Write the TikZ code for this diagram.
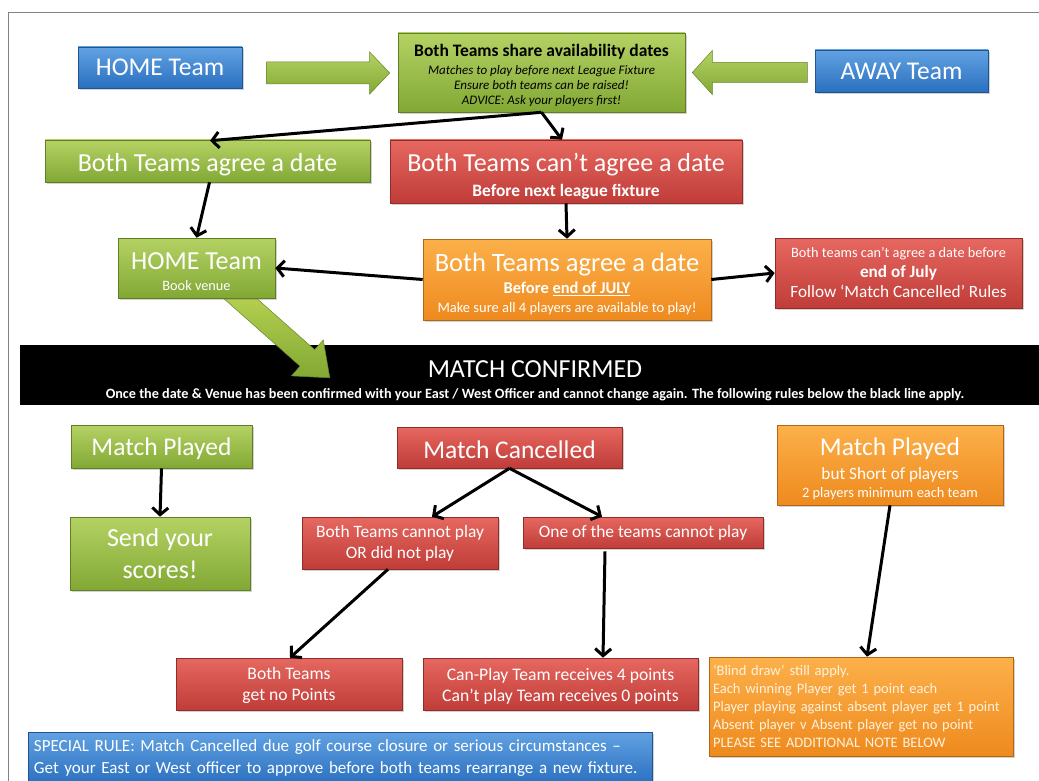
\documentclass[tikz,border=0pt]{standalone}
\usepackage{fontspec}
\setmainfont{Carlito}
\usetikzlibrary{arrows.meta,shadows,calc}
\pgfdeclarelayer{back}
\pgfdeclarelayer{mid}
\pgfsetlayers{back,mid,main}
\newcommand{\fsz}[2]{\fontsize{#1}{#2}\selectfont}
\newcommand{\pushdown}[1]{\rule{0pt}{#1}}
\definecolor{blueT}{RGB}{98,162,226}
\definecolor{blueB}{RGB}{42,112,192}
\definecolor{greenT}{RGB}{180,210,100}
\definecolor{greenB}{RGB}{130,168,52}
\definecolor{redT}{RGB}{230,104,96}
\definecolor{redB}{RGB}{192,60,56}
\definecolor{orangeT}{RGB}{252,176,74}
\definecolor{orangeB}{RGB}{238,138,30}
\definecolor{frame}{RGB}{130,130,130}
\definecolor{cream}{RGB}{255,242,222}
\tikzset{
  box/.style={draw=#1B!75!black, line width=0.6pt, inner sep=2pt, align=center,
    text=white, top color=#1T, bottom color=#1B,
    drop shadow={opacity=0.35, shadow xshift=2pt, shadow yshift=-2pt}},
  conn/.style={line width=3pt, -{Straight Barb[length=7pt,width=16pt]}},
  barrow/.style={top color=greenT, bottom color=greenB, draw=greenB!80!black, line width=0.5pt},
}
\begin{document}
\begin{tikzpicture}[x=1pt,y=-1pt]
\useasboundingbox (0,0) rectangle (1039,781);
\clip (0,0) rectangle (1039,781);
\begin{pgfonlayer}{back}
\fill[white] (0,0) rectangle (1039,781);
\draw[frame, line width=1pt] (8,790) -- (8,12.5) -- (1045,12.5);
\end{pgfonlayer}

% top row
\node[box=blue, minimum width=164pt, minimum height=41pt, font=\fsz{25.5}{30}] (home) at (160,67.5) {HOME Team};
\node[box=green, text=black, minimum width=287pt, minimum height=79pt, font=\fsz{13}{15}\itshape] (share) at (541.5,72.5)
  {\pushdown{18pt}{\fsz{17.5}{20}\bfseries\upshape Both Teams share availability dates}\\[3pt]
   Matches to play before next League Fixture\\ Ensure both teams can be raised!\\ ADVICE: Ask your players first!};
\node[box=blue, minimum width=173pt, minimum height=42pt, font=\fsz{25.5}{30}] (away) at (901.5,71) {AWAY Team};

% block arrows
\coordinate (rt) at ($(share.west)+(-8,0.5)$);
\path[barrow] (rt) -- ++(-20,-21) -- ++(0,10) -- ++(-103,0) -- ++(0,22) -- ++(103,0) -- ++(0,10) -- cycle;
\coordinate (lt) at ($(share.east)+(7,0)$);
\path[barrow] (lt) -- ++(20,-22) -- ++(0,12) -- ++(95,0) -- ++(0,20) -- ++(-95,0) -- ++(0,12) -- cycle;

% second row
\node[box=green, minimum width=325pt, minimum height=42pt, font=\fsz{26}{30}] (agree) at (207.5,161) {\pushdown{25pt}Both Teams agree a date};
\node[box=red, minimum width=352pt, minimum height=63pt, font=\fsz{17.4}{19}\bfseries] (cant) at (566,171.5)
  {\pushdown{27pt}{\fsz{26}{30}\mdseries Both Teams can’t agree a date}\\[6pt] Before next league fixture};

% third row
\node[box=green, minimum width=157pt, minimum height=60pt, font=\fsz{14.3}{16}] (homeg) at (196.5,268)
  {\pushdown{25pt}{\fsz{26}{28}HOME Team}\\[5pt] Book venue};
\node[box=orange, minimum width=288pt, minimum height=81pt, font=\fsz{14.5}{17}] (orng) at (567,279.5)
  {\pushdown{27pt}{\fsz{26.5}{28}Both Teams agree a date}\\[5pt]
   {\fsz{16.5}{18}\bfseries Before \underline{end of JULY}}\\[2pt]
   Make sure all 4 players are available to play!};
\node[box=red, minimum width=247pt, minimum height=70pt, font=\fsz{17.2}{20}] (redr) at (898.5,273)
  {{\fsz{14.3}{16}Both teams can’t agree a date before}\\ {\bfseries end of July}\\ Follow ‘Match Cancelled’ Rules};

% black band and big arrow
\begin{pgfonlayer}{back}
\node[fill=black, minimum width=1030pt, minimum height=60pt, inner sep=0pt, text=white, align=center, font=\fsz{14.2}{16}\bfseries] (band) at (535,375)
  {\pushdown{29pt}{\fsz{26}{30}\mdseries MATCH CONFIRMED}\\[5pt] Once the date \& Venue has been confirmed with your East / West Officer and cannot change again. The following rules below the black line apply.};
\end{pgfonlayer}
\begin{pgfonlayer}{mid}
\coordinate (ds) at ($(homeg.south)+(30,-12)$);
\coordinate (dt) at ($(band.north west)+(310,33)$);
\coordinate (db) at ($(dt)!30pt!(ds)$);
\path[top color=greenT!85!yellow, bottom color=greenB, draw=greenB!80!black, line width=0.5pt]
  ($(ds)!11pt!90:(dt)$) -- ($(db)!11pt!90:(dt)$) -- ($(db)!24pt!90:(dt)$) -- (dt)
  -- ($(db)!24pt!-90:(dt)$) -- ($(db)!11pt!-90:(dt)$) -- ($(ds)!11pt!-90:(dt)$) -- cycle;
\end{pgfonlayer}

% lower part
\node[box=green, minimum width=181pt, minimum height=43pt, font=\fsz{25.5}{30}] (mp) at (161.5,446.5) {\pushdown{23pt}Match Played};
\node[box=green, minimum width=180pt, minimum height=73pt, font=\fsz{26}{32}] (send) at (160,553.5) {Send your\\ scores!};
\node[box=red, minimum width=225pt, minimum height=41pt, font=\fsz{25.5}{30}] (mc) at (509.5,447.5) {\pushdown{23pt}Match Cancelled};
\node[box=red, minimum width=196pt, minimum height=52pt, font=\fsz{17.4}{21}] (bcp) at (400,543) {Both Teams cannot play\\ OR did not play};
\node[box=red, minimum width=240pt, minimum height=31pt, font=\fsz{17.4}{20}] (one) at (643,532.5) {One of the teams cannot play};
\node[box=orange, minimum width=226pt, minimum height=80pt, font=\fsz{14.4}{17}] (omp) at (890,465)
  {\pushdown{25pt}{\fsz{25.5}{28}Match Played}\\[7pt] {\fsz{17.2}{19}but Short of players}\\[1pt] 2 players minimum each team};
\node[box=red, minimum width=226pt, minimum height=52pt, font=\fsz{17.6}{21}] (bgn) at (289,684) {\pushdown{16pt}Both Teams\\ get no Points};
\node[box=red, minimum width=275pt, minimum height=52pt, font=\fsz{17.6}{21}] (cpt) at (560.5,684) {\pushdown{16pt}Can-Play Team receives 4 points\\ Can’t play Team receives 0 points};
\node[box=orange, minimum width=304pt, minimum height=99pt, align=left, text=cream, text width=296pt, inner sep=4pt, font=\fsz{14.5}{18}] (blind) at (861,706.5)
  {‘Blind draw’ still apply.\\ Each winning Player get 1 point each\\ Player playing against absent player get 1 point\\ Absent player v Absent player get no point\\ PLEASE SEE ADDITIONAL NOTE BELOW};
\node[box=blue, minimum width=624pt, minimum height=52pt, align=left, text width=612pt, inner sep=6pt, font=\fsz{17}{22}] (special) at (340,758)
  {SPECIAL RULE: Match Cancelled due golf course closure or serious circumstances –\\ Get your East or West officer to approve before both teams rearrange a new fixture.};

% connectors
\draw[conn] (share.south) -- ($(agree.north)+(2.5,1)$);
\draw[conn] (share.south) -- ($(cant.north)+(-4,0)$);
\draw[conn] ($(agree.south)+(2,0)$) -- (homeg.north);
\draw[conn] (cant.south) -- (orng.north);
\draw[conn] (orng.west) -- (homeg.east);
\draw[conn] (orng.east) -- (redr.west);
\draw[conn] (mp.south) -- (send.north);
\draw[conn] (mc.south) -- ($(bcp.north)+(32,0)$);
\draw[conn] (mc.south) -- ($(one.north)+(-41,0)$);
\draw[conn] ($(bcp.south)+(-12,0)$) -- ($(bgn.north)+(1,0)$);
\draw[conn] ($(one.south)+(-38,3)$) -- ($(cpt.north)+(42.5,0)$);
\draw[conn] (omp.south) -- ($(blind.north)+(6,0)$);
\end{tikzpicture}
\end{document}
